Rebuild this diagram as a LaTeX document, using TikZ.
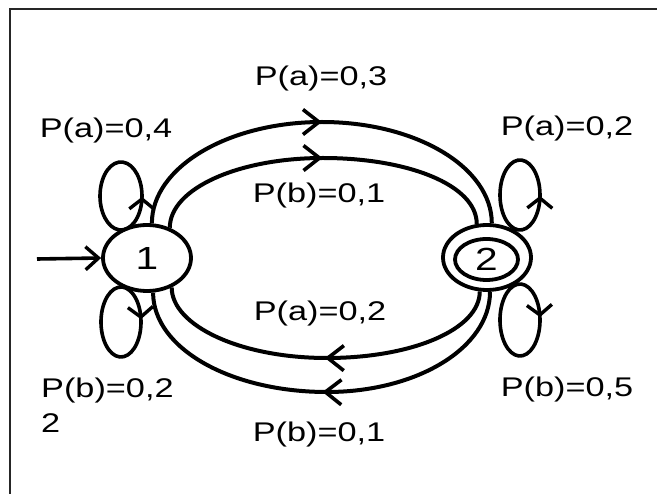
\documentclass[tikz,border=0pt]{standalone}
\usepackage{fontspec}
\newfontfamily\lblfont[FakeStretch=1.27]{Liberation Sans}
\usetikzlibrary{arrows.meta,shapes.geometric,decorations.markings}
\tikzset{
  lbl/.style={font=\lblfont\fontsize{27}{35}\selectfont, inner sep=0pt, anchor=base},
  statebox/.style={ellipse, draw, line width=3.8pt, inner sep=0pt, font=\lblfont\fontsize{32}{36}\selectfont},
  midarrow/.style={line width=4pt, postaction={decorate},
    decoration={markings, mark=at position 0.5 with {\arrow{Straight Barb[length=16pt,width=25pt,line width=3.6pt]}}}},
  looparrow/.style={line width=3.6pt, postaction={decorate},
    decoration={markings, mark=at position 0.012 with {\arrow{Straight Barb[length=10pt,width=25pt,line width=3.4pt]}}}},
}
\begin{document}
\begin{tikzpicture}[x=1pt,y=1pt]
\useasboundingbox (0,0) rectangle (657,-494);
% frame
\draw[line width=2.2pt, black!85] (10,-494) -- (10,-9) -- (657,-9);
% states
\node[statebox, minimum width=88pt, minimum height=66pt] (n1) at (147,-258) {1};
\node[statebox, minimum width=88pt, minimum height=65pt] (n2) at (487,-257.5) {};
\node[statebox, minimum width=63pt, minimum height=41pt] (n2i) at (486.5,-259.5) {2};
% input arrow
\coordinate (start) at (37,-259);
\draw[line width=3.6pt, -{Straight Barb[length=13pt,width=23pt,line width=3.4pt]}] (start) -- (n1.west);
% transitions 1 -> 2
\coordinate (t1) at (322,-122);
\coordinate (t2) at (323,-158);
\draw[midarrow] (n1.82) .. controls +(0,56) and +(-94,0) .. (t1) .. controls +(94,0) and +(0,56) .. (n2.82);
\draw[midarrow] (n1.53) .. controls +(0,39) and +(-85,0) .. (t2) .. controls +(85,0) and +(0,39) .. (n2.107);
% transitions 2 -> 1
\coordinate (b1) at (327,-392);
\coordinate (b2) at (327,-358);
\draw[midarrow] (n2.-102) .. controls +(0,-38) and +(85,0) .. (b2) .. controls +(-87,0) and +(0,-38) .. (n1.-50);
\draw[midarrow] (n2.-85) .. controls +(0,-56) and +(90,0) .. (b1) .. controls +(-96,0) and +(0,-56) .. (n1.-80);
% self loops
\draw[looparrow] (121,-196) ++(-5:21 and 34) arc[start angle=-5, end angle=355, x radius=21, y radius=34];
\draw[looparrow] (121,-322) ++(8:20 and 35) arc[start angle=8, end angle=-352, x radius=20, y radius=35];
\draw[looparrow] (520,-195) ++(-5:20 and 35) arc[start angle=-5, end angle=355, x radius=20, y radius=35];
\draw[looparrow] (520,-320) ++(8:20 and 36) arc[start angle=8, end angle=-352, x radius=20, y radius=36];
% labels
\node[lbl] (l1) at (321,-86) {P(a)=0,3};
\node[lbl] (l2) at (319,-203) {P(b)=0,1};
\node[lbl] (l3) at (106,-138) {P(a)=0,4};
\node[lbl] (l4) at (567,-136) {P(a)=0,2};
\node[lbl] (l5) at (320,-321) {P(a)=0,2};
\node[lbl] (l6) at (319,-442) {P(b)=0,1};
\node[lbl] (l7) at (567,-397) {P(b)=0,5};
\node[font=\lblfont\fontsize{27}{35}\selectfont, inner sep=0pt, anchor=base west, align=left] (l8) at (41,-433) {P(b)=0,2\\2};
\end{tikzpicture}
\end{document}
